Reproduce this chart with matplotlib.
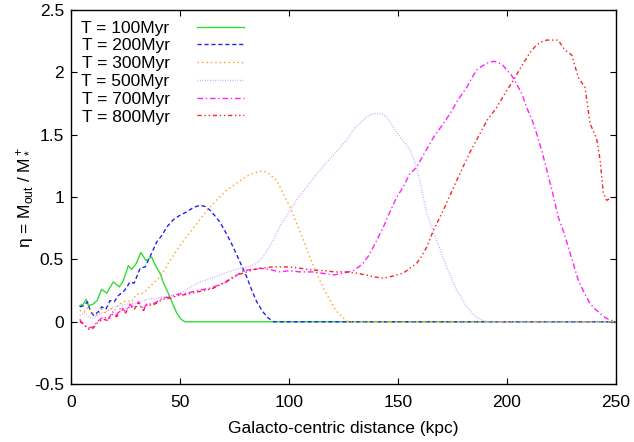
import matplotlib
matplotlib.use('Agg')
import matplotlib.pyplot as plt

plt.rcParams['font.family'] = ['Liberation Sans', 'DejaVu Sans']
plt.rcParams['mathtext.default'] = 'regular'

labels = ['T = 100Myr', 'T = 200Myr', 'T = 300Myr', 'T = 500Myr', 'T = 700Myr', 'T = 800Myr']

# T = 100 Myr
x100 = [4, 5.5, 7, 8, 10, 12, 14, 16.4, 19.4, 22.2, 24, 26.3, 27.8, 30, 32, 34.4, 37, 38.5,
        40.8, 42.5, 44.6, 46.5, 48.5, 50.5, 52.3, 250]
y100 = [0.13, 0.14, 0.18, 0.13, 0.14, 0.17, 0.26, 0.23, 0.32, 0.28, 0.33, 0.45, 0.42, 0.47,
        0.556, 0.49, 0.52, 0.46, 0.39, 0.31, 0.23, 0.15, 0.07, 0.02, 0.0, 0.0]

# T = 200 Myr
x200 = [4, 6, 7.5, 9, 10.5, 12.5, 14.1, 16, 17.9, 19.8, 21.7, 24.5, 27.1, 29, 31.7, 34, 36.2,
        39.3, 42, 43.9, 47, 50, 53, 56.1, 59.2, 61.5, 63.8, 66, 68.3, 71.5, 74.4, 77.5, 80.6,
        83, 85.2, 88, 90.5, 93, 250]
y200 = [0.12, 0.13, 0.16, 0.08, 0.05, 0.08, 0.12, 0.10, 0.17, 0.16, 0.21, 0.25, 0.32, 0.31,
        0.43, 0.44, 0.52, 0.64, 0.70, 0.76, 0.82, 0.855, 0.88, 0.917, 0.935, 0.925, 0.895,
        0.85, 0.80, 0.70, 0.60, 0.48, 0.36, 0.25, 0.16, 0.08, 0.03, 0.0, 0.0]

# T = 300 Myr
x300 = [4, 6, 8, 10, 12, 14, 16, 18, 20, 22, 25.5, 28, 30, 33.2, 36, 40.8, 44, 48.5, 52, 56.1,
        60, 63.8, 67, 71.4, 75, 79, 82, 85.2, 87.5, 90, 92, 94.3, 97, 100.5, 103.5, 106.6,
        109.5, 112.7, 115.5, 118.8, 121.5, 124.9, 127, 250]
y300 = [0.09, 0.08, 0.12, 0.07, 0.05, 0.10, 0.07, 0.11, 0.09, 0.14, 0.17, 0.16, 0.22, 0.23,
        0.28, 0.36, 0.45, 0.575, 0.66, 0.75, 0.84, 0.92, 0.98, 1.055, 1.10, 1.15, 1.18, 1.20,
        1.21, 1.20, 1.17, 1.135, 1.04, 0.92, 0.79, 0.655, 0.52, 0.39, 0.28, 0.174, 0.09, 0.03,
        0.0, 0.0]

# T = 500 Myr
x500 = [4, 6, 8, 10, 13, 16, 20, 25, 30, 35, 40, 45, 50, 54, 59.2, 63, 68.3, 72, 77.5, 81,
        85.2, 88, 92.8, 96, 100.5, 104, 108, 112, 117.3, 122, 126.5, 130, 134.1, 137, 139.4,
        142.5, 145, 147.8, 151, 155.5, 158, 160.1, 163.2, 167.7, 172.3, 176.9, 181.5, 186.1,
        189.1, 192, 250]
y500 = [0.05, 0.07, 0.04, 0.03, 0.06, 0.08, 0.12, 0.14, 0.15, 0.18, 0.19, 0.21, 0.23, 0.27,
        0.32, 0.34, 0.375, 0.40, 0.43, 0.44, 0.47, 0.52, 0.655, 0.77, 0.895, 0.99, 1.08, 1.17,
        1.28, 1.37, 1.46, 1.55, 1.62, 1.66, 1.67, 1.67, 1.64, 1.56, 1.48, 1.38, 1.27, 1.12,
        0.87, 0.655, 0.44, 0.254, 0.12, 0.035, 0.01, 0.0, 0.0]

# T = 700 Myr
x700 = [4, 6, 8, 10.2, 12, 14.8, 17, 19, 21, 23, 25, 27.1, 29, 31, 33.2, 35, 37, 39.3, 42,
        45.4, 49, 53.1, 58, 63.8, 67, 71.4, 75, 79, 83, 86.7, 91, 95.9, 100, 105, 111, 115,
        120.2, 125, 129.4, 132, 134, 136.5, 138.7, 141, 143.3, 146, 149.4, 152, 155.5, 158.6,
        162, 166.3, 170, 173.9, 177.5, 181.5, 184, 186.1, 188.5, 191.4, 194, 196, 198, 199.9,
        202, 204.4, 207, 209, 211.5, 213.6, 216, 218.2, 221, 223.5, 226, 228.1, 230.5, 232.7,
        235.5, 238.1, 240.5, 242.7, 245, 247.2, 248.5]
y700 = [0.02, -0.03, -0.05, -0.04, 0.0, 0.04, 0.02, 0.08, 0.05, 0.12, 0.08, 0.14, 0.11, 0.16,
        0.10, 0.15, 0.14, 0.16, 0.19, 0.20, 0.22, 0.23, 0.25, 0.27, 0.29, 0.32, 0.36, 0.41,
        0.42, 0.43, 0.42, 0.40, 0.41, 0.40, 0.40, 0.39, 0.375, 0.39, 0.41, 0.44, 0.47, 0.53,
        0.60, 0.68, 0.76, 0.87, 1.0, 1.07, 1.19, 1.24, 1.35, 1.48, 1.57, 1.67, 1.78, 1.88,
        1.96, 2.02, 2.05, 2.08, 2.09, 2.08, 2.06, 2.02, 1.98, 1.91, 1.82, 1.72, 1.62, 1.51,
        1.37, 1.22, 1.03, 0.84, 0.72, 0.60, 0.46, 0.334, 0.23, 0.147, 0.10, 0.067, 0.035,
        0.014, 0.01]

# T = 800 Myr
x800 = [4, 6, 8, 10.2, 12, 14.8, 17, 19, 21, 23, 25, 27.1, 29, 31, 33.2, 35, 37, 39.3, 42,
        45.4, 49, 53.1, 58, 61, 65.3, 70, 74.4, 77, 80.6, 84, 88.2, 92, 96, 100.5, 105, 111,
        116, 121, 126.5, 131, 135.6, 139, 143.3, 146, 149.4, 152.4, 155.5, 158.6, 161, 163.2,
        166.3, 170.8, 174, 178.4, 183, 187.6, 191, 195.3, 199, 203, 207, 210.6, 213, 215.1,
        218.2, 221, 223.5, 225, 226.6, 229.7, 232.7, 235.8, 238.1, 241.1, 242.7, 244.2, 245.7,
        247.6]
y800 = [0.0, -0.02, -0.06, -0.05, -0.01, 0.02, 0.01, 0.06, 0.04, 0.10, 0.07, 0.13, 0.10, 0.15,
        0.09, 0.14, 0.13, 0.15, 0.18, 0.19, 0.21, 0.22, 0.24, 0.25, 0.27, 0.31, 0.36, 0.38,
        0.40, 0.42, 0.43, 0.44, 0.44, 0.44, 0.43, 0.415, 0.41, 0.40, 0.40, 0.39, 0.375, 0.36,
        0.35, 0.36, 0.375, 0.39, 0.43, 0.47, 0.53, 0.60, 0.735, 0.895, 1.02, 1.19, 1.36, 1.51,
        1.62, 1.72, 1.83, 1.94, 2.06, 2.16, 2.21, 2.24, 2.26, 2.26, 2.26, 2.22, 2.18, 2.14,
        1.96, 1.88, 1.59, 1.47, 1.30, 1.03, 0.975, 0.99]

series = [(x100, y100), (x200, y200), (x300, y300), (x500, y500), (x700, y700), (x800, y800)]
colors = ['#33dd33', '#2222ee', '#ffa020', '#c89cf8', '#ff20ff', '#ff2020']
dashes = [None, (3, 2), (1, 2.2), (0.6, 1.2), (4, 2, 1, 2), (3, 2, 1, 2, 1, 2)]

fs = 12.5

fig = plt.figure(figsize=(6.34, 4.42), dpi=100)
ax = fig.add_axes([0.112, 0.131, 0.8596, 0.846])

for (xs, ys), c, d, lab in zip(series, colors, dashes, labels):
    line, = ax.plot(xs, ys, color=c, lw=1.0, label=lab)
    if d is not None:
        line.set_dashes(d)

ax.set_xlim(0, 250)
ax.set_ylim(-0.5, 2.5)
ax.set_xticks([0, 50, 100, 150, 200, 250])
ax.set_yticks([-0.5, 0, 0.5, 1, 1.5, 2, 2.5])
ax.set_yticklabels(['-0.5', '0', '0.5', '1', '1.5', '2', '2.5'])
ax.tick_params(direction='in', top=True, right=True, length=4.5, labelsize=fs)
ax.tick_params(axis='x', pad=8)
ax.tick_params(axis='y', pad=5)
for s in ax.spines.values():
    s.set_linewidth(1.0)

ax.set_xlabel('Galacto-centric distance (kpc)', fontsize=fs, labelpad=8)
ax.set_ylabel('η = M$_{out}$ / M$_*^+$', fontsize=fs, labelpad=-1)

ax.legend(loc='upper left', frameon=False, markerfirst=False, fontsize=fs,
          handlelength=2.7, handletextpad=1.6, labelspacing=0.15,
          borderaxespad=0.2, bbox_to_anchor=(0.0, 1.0))

fig.savefig('out.png', dpi=100)
